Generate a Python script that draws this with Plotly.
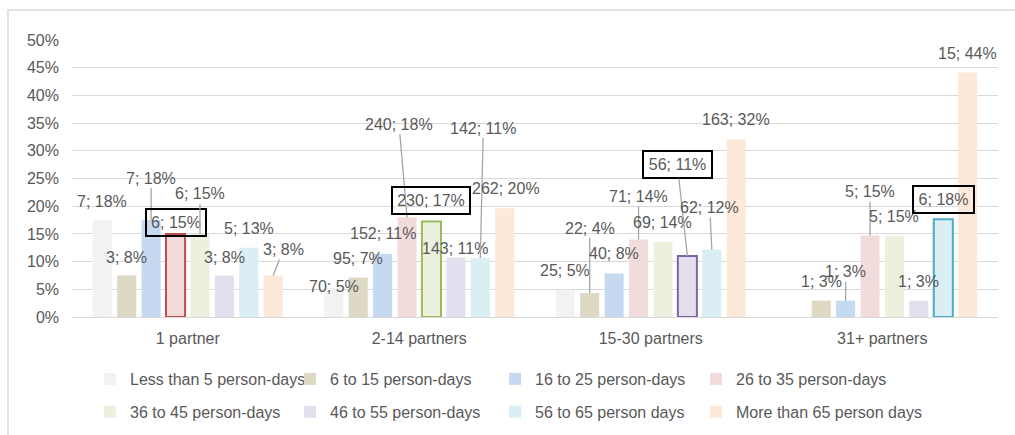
import plotly.graph_objects as go

categories = ["1 partner", "2-14 partners", "15-30 partners", "31+ partners"]
series_names = [
    "Less than 5 person-days", "6 to 15 person-days", "16 to 25 person-days",
    "26 to 35 person-days", "36 to 45 person-days", "46 to 55 person-days",
    "56 to 65 person days", "More than 65 person days",
]
# counts per series, one value per category
counts = [
    [7, 70, 25, 0],
    [3, 95, 22, 1],
    [7, 152, 40, 1],
    [6, 240, 71, 5],
    [6, 230, 69, 5],
    [3, 143, 56, 1],
    [5, 142, 62, 6],
    [3, 262, 163, 15],
]
# share (%) per series, one value per category
shares = [
    [17.5, 5.25, 4.92, 0.0],
    [7.5, 7.12, 4.33, 2.94],
    [17.5, 11.39, 7.87, 2.94],
    [15.0, 17.99, 13.98, 14.71],
    [15.0, 17.24, 13.58, 14.71],
    [7.5, 10.72, 11.02, 2.94],
    [12.5, 10.64, 12.20, 17.65],
    [7.5, 19.64, 32.09, 44.12],
]
pct_labels = [
    ["18%", "5%", "5%", None],
    ["8%", "7%", "4%", "3%"],
    ["18%", "11%", "8%", "3%"],
    ["15%", "18%", "14%", "15%"],
    ["15%", "17%", "14%", "15%"],
    ["8%", "11%", "11%", "3%"],
    ["13%", "11%", "12%", "18%"],
    ["8%", "20%", "32%", "44%"],
]
y_ticks = [0, 5, 10, 15, 20, 25, 30, 35, 40, 45, 50]
y_tick_labels = ["0%", "5%", "10%", "15%", "20%", "25%", "30%", "35%", "40%", "45%", "50%"]

# styling
colors = ["#F2F2F2", "#DDD9C4", "#C5D9F1", "#F2DCDB",
          "#EBF1DE", "#E4DFEC", "#DAEEF3", "#FDE9D9"]
highlight = {3: (0, "#C0504D"), 4: (1, "#9BBB59"), 5: (2, "#8064A2"), 6: (3, "#4BACC6")}
# label offsets (dx, dy px from bar top), leader line flag
offsets = [
    [(0, 19, 0), (0, 1, 0), (0, 19, 0), None],
    [(0, 18, 0), (0, 19, 0), (0, 65, 1), (0, 19, 0)],
    [(0, 42, 1), (0, 20, 0), (0, 20, 0), (0, 29, 1)],
    [(0, 11, 0), (-8, 93, 1), (0, 43, 1), (0, 44, 1)],
    [(0, 40, 1), (0, 21, 0), (0, 19, 0), (0, 19, 0)],
    [(0, 18, 0), (-1, 9, 0), (-10, 91, 1), (0, 19, 0)],
    [(0, 19, 0), (3, 130, 1), (-2, 42, 1), (0, 20, 0)],
    [(10, 26, 1), (1, 20, 0), (0, 20, 0), (0, 19, 0)],
]
box_widths = {3: 54, 4: 72, 5: 63, 6: 55}
legend_cols_px = [90, 290, 495, 696]

FONT = "Liberation Sans, Arial, sans-serif"
TXT = "#595959"
FS = 16
bargap = 0.156

legend_ids = ["legend", "legend2", "legend3", "legend4"]

fig = go.Figure()
for i, name in enumerate(series_names):
    order = list(range(4))
    lw = [0] * 4
    lc = [colors[i]] * 4
    if i in highlight:
        k, c = highlight[i]
        lw[k] = 2
        lc[k] = c
        if k == 0:
            order = [1, 2, 3, 0]
    fig.add_trace(go.Bar(
        name=name,
        x=[categories[k] for k in order],
        y=[shares[i][k] for k in order],
        marker=dict(color=colors[i], line=dict(width=[lw[k] for k in order],
                                                color=[lc[k] for k in order])),
        legend=legend_ids[i % 4],
        legendgroup=name,
        hoverinfo="skip",
    ))

annotations = []
n = len(series_names)
for i in range(n):
    for k in range(4):
        if pct_labels[i][k] is None:
            continue
        dx, dy, lead = offsets[i][k]
        xc = k + (-0.5 + (i + 0.5) / n) * (1 - bargap)
        text = f"{counts[i][k]}; {pct_labels[i][k]}"
        boxed = i in highlight and highlight[i][0] == k
        a = dict(x=xc, y=shares[i][k], xref="x", yref="y", text=text,
                 font=dict(family=FONT, size=FS, color=TXT))
        if boxed:
            a.update(bordercolor="#000000", borderwidth=2, borderpad=2,
                     width=box_widths[i], height=21)
        if lead:
            a.update(showarrow=True, ax=dx, ay=-dy, axref="pixel", ayref="pixel",
                     arrowhead=0, arrowwidth=1.3, arrowcolor="#A6A6A6", standoff=0)
        else:
            a.update(showarrow=False, xshift=dx, yshift=dy)
        annotations.append(a)

L, R, T, B = 72, 17, 40, 118
W, H = 1015, 435
pw, ph = W - L - R, H - T - B

def px2x(p):
    return (p - L) / pw

def py2y(p):
    return (H - B - p) / ph

legend_style = dict(orientation="v", xanchor="left", yanchor="middle",
                    y=py2y(395.5), tracegroupgap=9,
                    font=dict(size=FS, color=TXT),
                    bgcolor="rgba(0,0,0,0)", traceorder="grouped")
legends = {lid: dict(legend_style, x=px2x(legend_cols_px[j]))
           for j, lid in enumerate(legend_ids)}

fig.update_layout(
    width=W, height=H,
    margin=dict(l=L, r=R, t=T, b=B, pad=0, autoexpand=False),
    paper_bgcolor="white", plot_bgcolor="white",
    barmode="group", bargap=bargap, bargroupgap=0.22,
    font=dict(family=FONT, size=FS, color=TXT),
    xaxis=dict(type="category", categoryorder="array", categoryarray=categories,
               showgrid=False, zeroline=False, showline=False, ticks="",
               ticklabelstandoff=10, tickfont=dict(size=FS, color=TXT),
               range=[-0.5, 3.5], fixedrange=True, automargin=False),
    yaxis=dict(range=[0, 50], tickvals=y_ticks, ticktext=y_tick_labels,
               showgrid=True, gridcolor="#D9D9D9", gridwidth=1.3,
               zeroline=True, zerolinecolor="#D9D9D9", zerolinewidth=1.3,
               showline=False, ticks="", ticklabelstandoff=12,
               tickfont=dict(size=FS, color=TXT), fixedrange=True, automargin=False),
    showlegend=True,
    annotations=annotations,
    shapes=[dict(type="rect", xref="paper", yref="paper",
                 x0=px2x(8), x1=px2x(1030), y0=py2y(450), y1=py2y(10),
                 line=dict(color="#D9D9D9", width=1.5), fillcolor="rgba(0,0,0,0)",
                 layer="below")],
    **legends,
)

fig.write_html("out.html")
